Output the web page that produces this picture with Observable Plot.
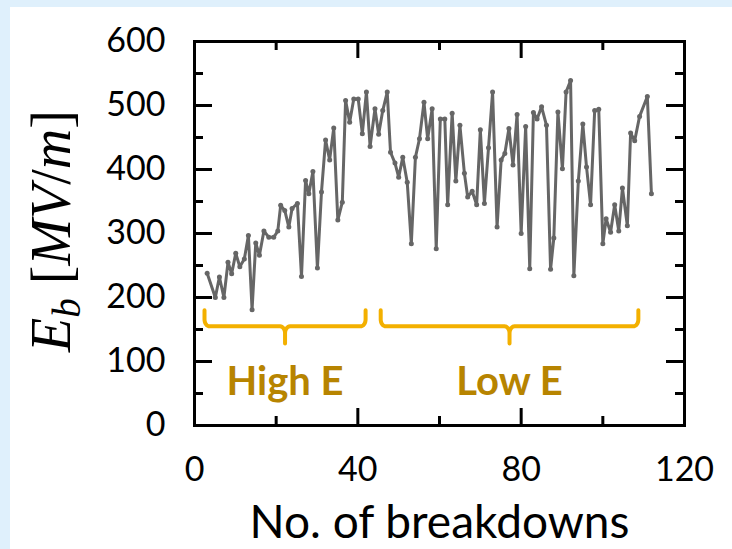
<!DOCTYPE html>
<html><head><meta charset="utf-8">
<script src="https://cdn.jsdelivr.net/npm/d3@7"></script>
<script src="https://cdn.jsdelivr.net/npm/@observablehq/plot@0.6"></script>
<style>
html,body{margin:0;padding:0;background:#dff0fc;width:732px;height:549px;overflow:hidden}
#chart{position:absolute;left:10px;top:7px;background:#fff;width:722px;height:542px}
</style></head><body><div id="chart"></div>
<script>
// Breakdown number (x) and breakdown field E_b in MV/m (y)
const breakdownNo = [3.1,5.1,6.1,7.2,8.2,9.1,10.1,11.1,12.2,13.2,14.1,15.0,15.9,17.0,18.2,19.4,20.4,21.1,22.1,23.1,23.9,25.2,26.2,27.2,28.0,29.0,30.1,31.1,32.1,33.1,34.1,35.1,36.2,37.0,38.0,39.0,40.1,41.1,42.1,43.0,44.2,45.1,46.1,47.2,48.0,49.1,50.0,51.0,52.1,53.1,54.1,55.1,56.2,57.1,58.2,59.2,60.2,61.3,62.0,63.1,64.0,65.0,66.1,66.9,68.0,69.1,70.0,71.0,72.0,73.0,74.1,75.1,76.0,77.0,78.0,79.0,80.0,81.1,82.1,83.0,83.9,85.0,86.2,87.2,88.0,89.0,90.1,91.0,92.1,92.9,94.0,95.1,96.0,97.0,98.0,99.0,100.0,100.8,101.9,102.9,103.9,104.8,106.0,106.8,107.8,109.0,110.9,111.9];
const fieldMVm = [238,200,232,200,255,237,269,248,260,297,181,285,266,304,294,294,304,344,336,310,339,347,233,383,362,397,246,365,446,415,465,321,349,508,474,510,510,456,521,436,495,455,492,521,427,410,388,419,380,284,419,448,505,448,495,276,479,479,345,488,382,469,394,357,366,345,462,347,434,521,310,415,425,464,407,486,300,467,245,489,479,498,469,244,293,490,401,521,539,234,382,471,404,345,492,494,284,323,302,345,304,371,312,457,445,483,514,362];

const xTickLabels = [0, 40, 80, 120];
const xMajorTicks = [40, 80];
const xMinorTicks = [20, 60, 100];
const yTickLabels = [0, 100, 200, 300, 400, 500, 600];
const yMajorTicks = [100, 200, 300, 400, 500];
const yMinorTicks = [50, 150, 250, 350, 450, 550];
const xTitle = ["No. of breakdowns"];

// Braces annotating the two regimes
const braceLabels = ["High E", "Low E"];
const braceStart = [2.45, 45.6];
const braceEnd = [41.9, 108.7];
const braceTop = 180, braceMid = 155, braceTip = 128, braceLabelY = 68;

const xDomain = [0, 120], yDomain = [0, 600];
const W = 722, H = 542, mL = 184, mR = 48, mT = 34, mB = 124;
const pxPerX = (W - mL - mR) / (xDomain[1] - xDomain[0]);
const pxPerY = (H - mT - mB) / (yDomain[1] - yDomain[0]);

const data = breakdownNo.map((x, i) => ({x, y: fieldMVm[i]}));

// brace geometry in data units (corner radius defined in px)
function bracePath(x1, x2, id) {
  const rx = 5 / pxPerX, ry = 7 / pxPerY, xm = (x1 + x2) / 2;
  const pts = [];
  const arc = (cx, cy, a0, a1) => { for (let k = 0; k <= 8; k++) { const a = a0 + (a1 - a0) * k / 8; pts.push({x: cx + rx * Math.cos(a), y: cy + ry * Math.sin(a), id}); } };
  pts.push({x: x1, y: braceTop, id});
  arc(x1 + rx, braceMid + ry, Math.PI, 1.5 * Math.PI);
  arc(xm - rx, braceMid - ry, 0.5 * Math.PI, 0);
  pts.push({x: xm, y: braceTip, id});
  arc(xm + rx, braceMid - ry, Math.PI, 0.5 * Math.PI);
  arc(x2 - rx, braceMid + ry, 1.5 * Math.PI, 2 * Math.PI);
  pts.push({x: x2, y: braceTop, id});
  return pts;
}
const bracePts = braceLabels.flatMap((l, i) => bracePath(braceStart[i], braceEnd[i], l));
const braceText = braceLabels.map((l, i) => ({label: l, x: (braceStart[i] + braceEnd[i]) / 2, y: braceLabelY}));

const majLenX = 17 / pxPerY, minLenX = 9 / pxPerY;
const majLenY = 18 / pxPerX, minLenY = 9 / pxPerX;
const tickStyle = {stroke: "black", strokeWidth: 3};
const font = "Lato, 'Open Sans', sans-serif";

const svg = Plot.plot({
  width: W, height: H,
  marginLeft: mL, marginRight: mR, marginTop: mT, marginBottom: mB,
  style: {background: "white", fontFamily: font},
  x: {domain: xDomain},
  y: {domain: yDomain},
  marks: [
    Plot.line(data, {x: "x", y: "y", stroke: "#666666", strokeWidth: 3, strokeLinejoin: "round"}),
    Plot.dot(data, {x: "x", y: "y", r: 2.5, fill: "#666666", stroke: "none"}),
    Plot.line(bracePts, {x: "x", y: "y", z: "id", stroke: "#f3b000", strokeWidth: 4, strokeLinecap: "round", strokeLinejoin: "round"}),
    Plot.text(braceText, {x: "x", y: "y", text: "label", fill: "#b78400", fontSize: 40, fontWeight: "bold", fontFamily: font}),
    // inward ticks
    Plot.ruleX(xMajorTicks, {x: d => d, y1: yDomain[0], y2: yDomain[0] + majLenX, ...tickStyle}),
    Plot.ruleX(xMinorTicks, {x: d => d, y1: yDomain[0], y2: yDomain[0] + minLenX, ...tickStyle}),
    Plot.ruleX(xMajorTicks, {x: d => d, y1: yDomain[1], y2: yDomain[1] - majLenX, ...tickStyle}),
    Plot.ruleX(xMinorTicks, {x: d => d, y1: yDomain[1], y2: yDomain[1] - minLenX, ...tickStyle}),
    Plot.ruleY(yMajorTicks, {y: d => d, x1: xDomain[0], x2: xDomain[0] + majLenY, ...tickStyle}),
    Plot.ruleY(yMinorTicks, {y: d => d, x1: xDomain[0], x2: xDomain[0] + minLenY, ...tickStyle}),
    Plot.ruleY(yMajorTicks, {y: d => d, x1: xDomain[1], x2: xDomain[1] - majLenY, ...tickStyle}),
    Plot.ruleY(yMinorTicks, {y: d => d, x1: xDomain[1], x2: xDomain[1] - minLenY, ...tickStyle}),
    Plot.axisX(xTickLabels, {anchor: "bottom", tickSize: 0, tickPadding: 31, fontSize: 34, label: null, fill: "black"}),
    Plot.axisY(yTickLabels, {anchor: "left", tickSize: 0, tickPadding: 29, fontSize: 34, label: null, fill: "black"}),
    Plot.text(xTitle, {frameAnchor: "bottom", dy: 112, text: d => d, fontSize: 46, fill: "black"}),
    Plot.frame({stroke: "black", strokeWidth: 3})
  ]
});

// y-axis title with math formatting
const t = d3.select(svg).append("text")
  .attr("transform", `translate(60,224) rotate(-90)`)
  .attr("text-anchor", "middle")
  .attr("font-family", "'Liberation Serif', 'DejaVu Serif', serif")
  .attr("font-size", 56)
  .attr("fill", "black");
t.append("tspan").attr("font-style", "italic").text("E");
t.append("tspan").attr("font-style", "italic").attr("font-size", 39).attr("dy", 10).text("b");
t.append("tspan").attr("dy", -10).text(" [");
t.append("tspan").attr("font-style", "italic").text("MV");
t.append("tspan").text("/");
t.append("tspan").attr("font-style", "italic").text("m");
t.append("tspan").text("]");

document.getElementById("chart").appendChild(svg);
</script></body></html>
